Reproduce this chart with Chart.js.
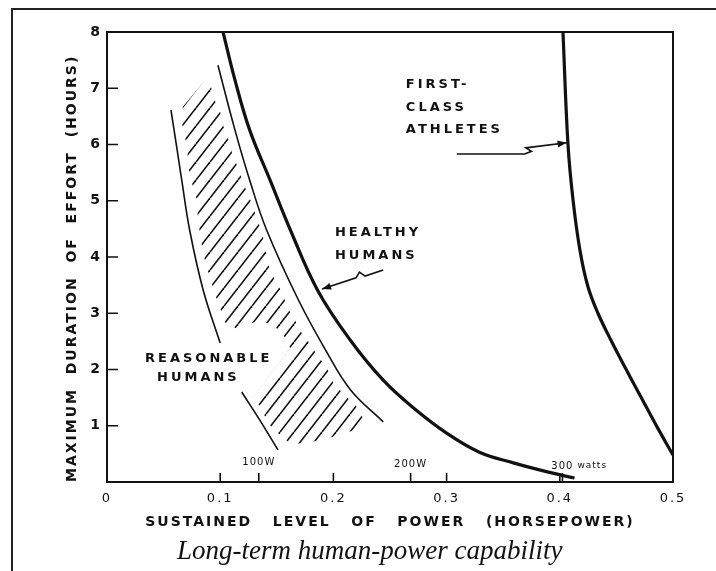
<!DOCTYPE html>
<html>
  <head>
    <title>Long-term human-power capability</title>
    <script src="https://cdn.jsdelivr.net/npm/chart.js@4.4.1/dist/chart.umd.min.js"></script>
    <style>
      html, body { margin: 0; padding: 0; background: #fff; }
      #wrap { position: relative; width: 716px; height: 571px; overflow: hidden; background: #fff; }
      canvas { display: block; }
      #frame {
        position: absolute; left: 11px; top: 8px; width: 760px; height: 620px;
        border-top: 2px solid #222; border-left: 2px solid #222; pointer-events: none;
      }
      #caption {
        position: absolute; left: 177px; top: 535px; line-height: 27px;
        font: italic 27px 'Liberation Serif', serif; color: #111; white-space: nowrap;
      }
    </style>
  </head>

  <body>
    <div id="wrap">
      <canvas id="canvas" width="716" height="571"></canvas>
      <div id="frame"></div>
      <div id="caption">Long-term human-power capability</div>
    </div>
    <script>
      // power in horsepower, duration in hours
      const healthyHp = [0.1025, 0.113, 0.126, 0.144, 0.162, 0.186, 0.215, 0.244, 0.270, 0.300, 0.329, 0.359, 0.389, 0.413];
      const healthyHours = [8.0, 7.15, 6.26, 5.37, 4.48, 3.41, 2.52, 1.81, 1.33, 0.87, 0.53, 0.34, 0.18, 0.07];

      const athletesHp = [0.4028, 0.4072, 0.4117, 0.4178, 0.4249, 0.4337, 0.4452, 0.4576, 0.4717, 0.4859, 0.500];
      const athletesHours = [8.0, 6.01, 5.01, 4.12, 3.47, 3.00, 2.52, 2.04, 1.51, 0.98, 0.48];

      // thin lines bounding the "reasonable humans" band (null = break for the label)
      const bandUpperHp = [0.098, 0.113, 0.126, 0.141, 0.169, 0.193, 0.215, 0.244];
      const bandUpperHours = [7.41, 6.26, 5.37, 4.48, 3.24, 2.35, 1.64, 1.07];
      const bandLowerHp = [0.0565, 0.062, 0.066, 0.073, 0.085, 0.100, 0.11, 0.119, 0.135, 0.151];
      const bandLowerHours = [6.61, 5.90, 5.37, 4.48, 3.41, 2.47, null, 1.60, 1.10, 0.57];

      // outline of the hatched area
      const hatchHp = [0.067, 0.087, 0.092, 0.095, 0.100, 0.103, 0.108, 0.111, 0.116, 0.120, 0.125, 0.129, 0.133, 0.137,
        0.140, 0.142, 0.148, 0.155, 0.159, 0.166, 0.172, 0.179, 0.186, 0.194, 0.200, 0.209, 0.220, 0.226, 0.217, 0.199,
        0.176, 0.162, 0.151, 0.141, 0.137, 0.128, 0.162, 0.156, 0.148, 0.135, 0.115, 0.104, 0.100, 0.095, 0.091, 0.087,
        0.084, 0.082, 0.080, 0.080, 0.076, 0.072, 0.071, 0.069, 0.066];
      const hatchHours = [6.67, 7.15, 7.02, 6.79, 6.58, 6.31, 6.04, 5.81, 5.58, 5.33, 5.10, 4.89, 4.66, 4.43,
        4.16, 3.89, 3.61, 3.36, 3.11, 2.88, 2.65, 2.47, 2.24, 2.04, 1.76, 1.56, 1.35, 1.14, 0.91, 0.80,
        0.69, 0.68, 0.87, 1.07, 1.32, 1.49, 2.38, 2.61, 2.77, 2.88, 2.72, 2.84, 3.09, 3.36, 3.64, 3.89,
        4.18, 4.44, 4.71, 4.98, 5.24, 5.58, 5.87, 6.13, 6.40];

      // pointer lines from labels to curves
      const athletesArrowHp = [0.309, 0.369, 0.375, 0.370, 0.406];
      const athletesArrowHours = [5.83, 5.83, 5.88, 5.94, 6.03];
      const healthyArrowHp = [0.244, 0.228, 0.223, 0.220, 0.190];
      const healthyArrowHours = [3.77, 3.66, 3.73, 3.63, 3.43];

      const labelTexts = ['FIRST-', 'CLASS', 'ATHLETES', 'HEALTHY', 'HUMANS', 'REASONABLE', 'HUMANS'];
      const labelHp = [0.264, 0.264, 0.264, 0.2014, 0.2014, 0.0336, 0.0442];
      const labelHours = [7.06, 6.65, 6.26, 4.44, 4.02, 2.20, 1.85];

      const powerTicks = [0.1, 0.2, 0.3, 0.4];
      const hourTicks = [1, 2, 3, 4, 5, 6, 7];
      const wattMarks = [100, 200, 300];
      const wattLabels = ['100W', '200W', '300 watts'];
      const wattLabelHours = [0.34, 0.32, 0.28];
      const wattsPerHp = 745.7;

      const ink = '#111';
      Chart.defaults.font.family = '"DejaVu Sans", sans-serif';
      Chart.defaults.color = ink;

      function pts(xs, ys) {
        return xs.map((x, i) => ({ x: x, y: ys[i] }));
      }

      function hatchPattern() {
        const w = 14, h = 18;
        const c = document.createElement('canvas');
        c.width = w;
        c.height = h;
        const g = c.getContext('2d');
        g.strokeStyle = ink;
        g.lineWidth = 1.6;
        for (const dx of [-w, 0, w]) {
          g.beginPath();
          g.moveTo(dx, h);
          g.lineTo(dx + w, 0);
          g.stroke();
        }
        return g.createPattern(c, 'repeat');
      }

      function arrowHead(ctx, meta) {
        const p = meta.data;
        const a = p[p.length - 2], b = p[p.length - 1];
        const ang = Math.atan2(b.y - a.y, b.x - a.x);
        ctx.save();
        ctx.translate(b.x, b.y);
        ctx.rotate(ang);
        ctx.beginPath();
        ctx.moveTo(0, 0);
        ctx.lineTo(-9, -3.5);
        ctx.lineTo(-9, 3.5);
        ctx.closePath();
        ctx.fill();
        ctx.restore();
      }

      const inkPlugin = {
        id: 'ink',
        beforeUpdate(chart) {
          chart.ctx.letterSpacing = '2px';
        },
        beforeDraw(chart) {
          const ctx = chart.ctx;
          ctx.letterSpacing = '2px';
          ctx.save();
          ctx.fillStyle = '#fff';
          ctx.fillRect(0, 0, chart.width, chart.height);
          ctx.restore();
        },
        afterDatasetsDraw(chart) {
          const { ctx, chartArea: a, scales } = chart;
          const x = scales.x, y = scales.y;
          ctx.save();
          ctx.strokeStyle = ink;
          ctx.fillStyle = ink;

          // top and right frame of the plot
          ctx.lineWidth = 2;
          ctx.beginPath();
          ctx.moveTo(a.left, a.top);
          ctx.lineTo(a.right, a.top);
          ctx.lineTo(a.right, a.bottom);
          ctx.stroke();

          // tick marks point inwards
          const wattHp = wattMarks.map(w => w / wattsPerHp);
          ctx.lineWidth = 1.6;
          ctx.beginPath();
          hourTicks.forEach(v => {
            const py = y.getPixelForValue(v);
            ctx.moveTo(a.left, py);
            ctx.lineTo(a.left + 11, py);
          });
          powerTicks.concat(wattHp).forEach(v => {
            const px = x.getPixelForValue(v);
            ctx.moveTo(px, a.bottom);
            ctx.lineTo(px, a.bottom - 9);
          });
          ctx.stroke();

          // arrow heads
          arrowHead(ctx, chart.getDatasetMeta(5));
          arrowHead(ctx, chart.getDatasetMeta(6));

          // curve labels
          ctx.font = 'bold 13px "DejaVu Sans"';
          ctx.letterSpacing = '3px';
          ctx.textAlign = 'left';
          ctx.textBaseline = 'middle';
          labelTexts.forEach((t, i) => {
            ctx.fillText(t, x.getPixelForValue(labelHp[i]), y.getPixelForValue(labelHours[i]));
          });

          // watt marks
          ctx.letterSpacing = '1px';
          wattLabels.forEach((t, i) => {
            const px = x.getPixelForValue(wattHp[i]);
            const py = y.getPixelForValue(wattLabelHours[i]);
            const parts = t.split(' ');
            ctx.font = '10px "DejaVu Sans"';
            ctx.textAlign = 'center';
            ctx.fillText(parts[0], px, py);
            if (parts.length > 1) {
              const half = ctx.measureText(parts[0]).width / 2;
              ctx.font = '9px "DejaVu Sans"';
              ctx.textAlign = 'left';
              ctx.fillText(parts[1], px + half + 4, py - 1);
            }
          });
          ctx.restore();
        }
      };

      const thin = { borderColor: ink, borderWidth: 1.6, tension: 0.4, fill: false };
      const thick = { borderColor: ink, borderWidth: 3.2, tension: 0.4, fill: false };
      const pointer = { borderColor: ink, borderWidth: 1.6, tension: 0, fill: false };

      window.onload = () => {
        const ctx = document.getElementById('canvas').getContext('2d');
        window.myChart = new Chart(ctx, {
          type: 'line',
          data: {
            datasets: [
              {
                label: 'hatch',
                data: pts(hatchHp, hatchHours),
                fill: 'shape',
                backgroundColor: hatchPattern(),
                borderColor: 'transparent',
                borderWidth: 0,
                tension: 0
              },
              Object.assign({ label: 'band upper', data: pts(bandUpperHp, bandUpperHours) }, thin),
              Object.assign({ label: 'band lower', data: pts(bandLowerHp, bandLowerHours) }, thin),
              Object.assign({ label: 'Healthy humans', data: pts(healthyHp, healthyHours) }, thick),
              Object.assign({ label: 'First-class athletes', data: pts(athletesHp, athletesHours) }, thick),
              Object.assign({ label: 'athletes pointer', data: pts(athletesArrowHp, athletesArrowHours) }, pointer),
              Object.assign({ label: 'healthy pointer', data: pts(healthyArrowHp, healthyArrowHours) }, pointer)
            ]
          },
          options: {
            responsive: false,
            animation: false,
            events: [],
            layout: { padding: { top: 32, right: 43, left: 0, bottom: 0 } },
            elements: { point: { radius: 0 } },
            plugins: {
              legend: { display: false },
              tooltip: { enabled: false }
            },
            scales: {
              x: {
                type: 'linear',
                min: 0,
                max: 0.5,
                grid: { display: false, drawTicks: false },
                border: { display: true, color: ink, width: 2 },
                ticks: {
                  stepSize: 0.1,
                  autoSkip: false,
                  maxRotation: 0,
                  padding: 9,
                  font: { size: 13 },
                  callback: v => (v === 0 ? '0' : v.toFixed(1))
                },
                title: {
                  display: true,
                  text: 'SUSTAINED   LEVEL   OF   POWER   (HORSEPOWER)',
                  font: { size: 14, weight: 'bold' },
                  padding: { top: 0, bottom: 40 }
                },
                afterFit(scale) {
                  scale.height = 89;
                }
              },
              y: {
                type: 'linear',
                min: 0,
                max: 8,
                grid: { display: false, drawTicks: false },
                border: { display: true, color: ink, width: 2 },
                ticks: {
                  stepSize: 1,
                  padding: 5,
                  font: { size: 14, weight: 'bold' },
                  callback: v => (v === 0 ? '' : v)
                },
                title: {
                  display: true,
                  text: 'MAXIMUM  DURATION  OF  EFFORT  (HOURS)',
                  align: 'start',
                  font: { size: 14, weight: 'bold' },
                  padding: { top: 64, bottom: 0 }
                },
                afterFit(scale) {
                  scale.width = 107;
                }
              }
            }
          },
          plugins: [inkPlugin]
        });
      };
    </script>
  </body>
</html>
